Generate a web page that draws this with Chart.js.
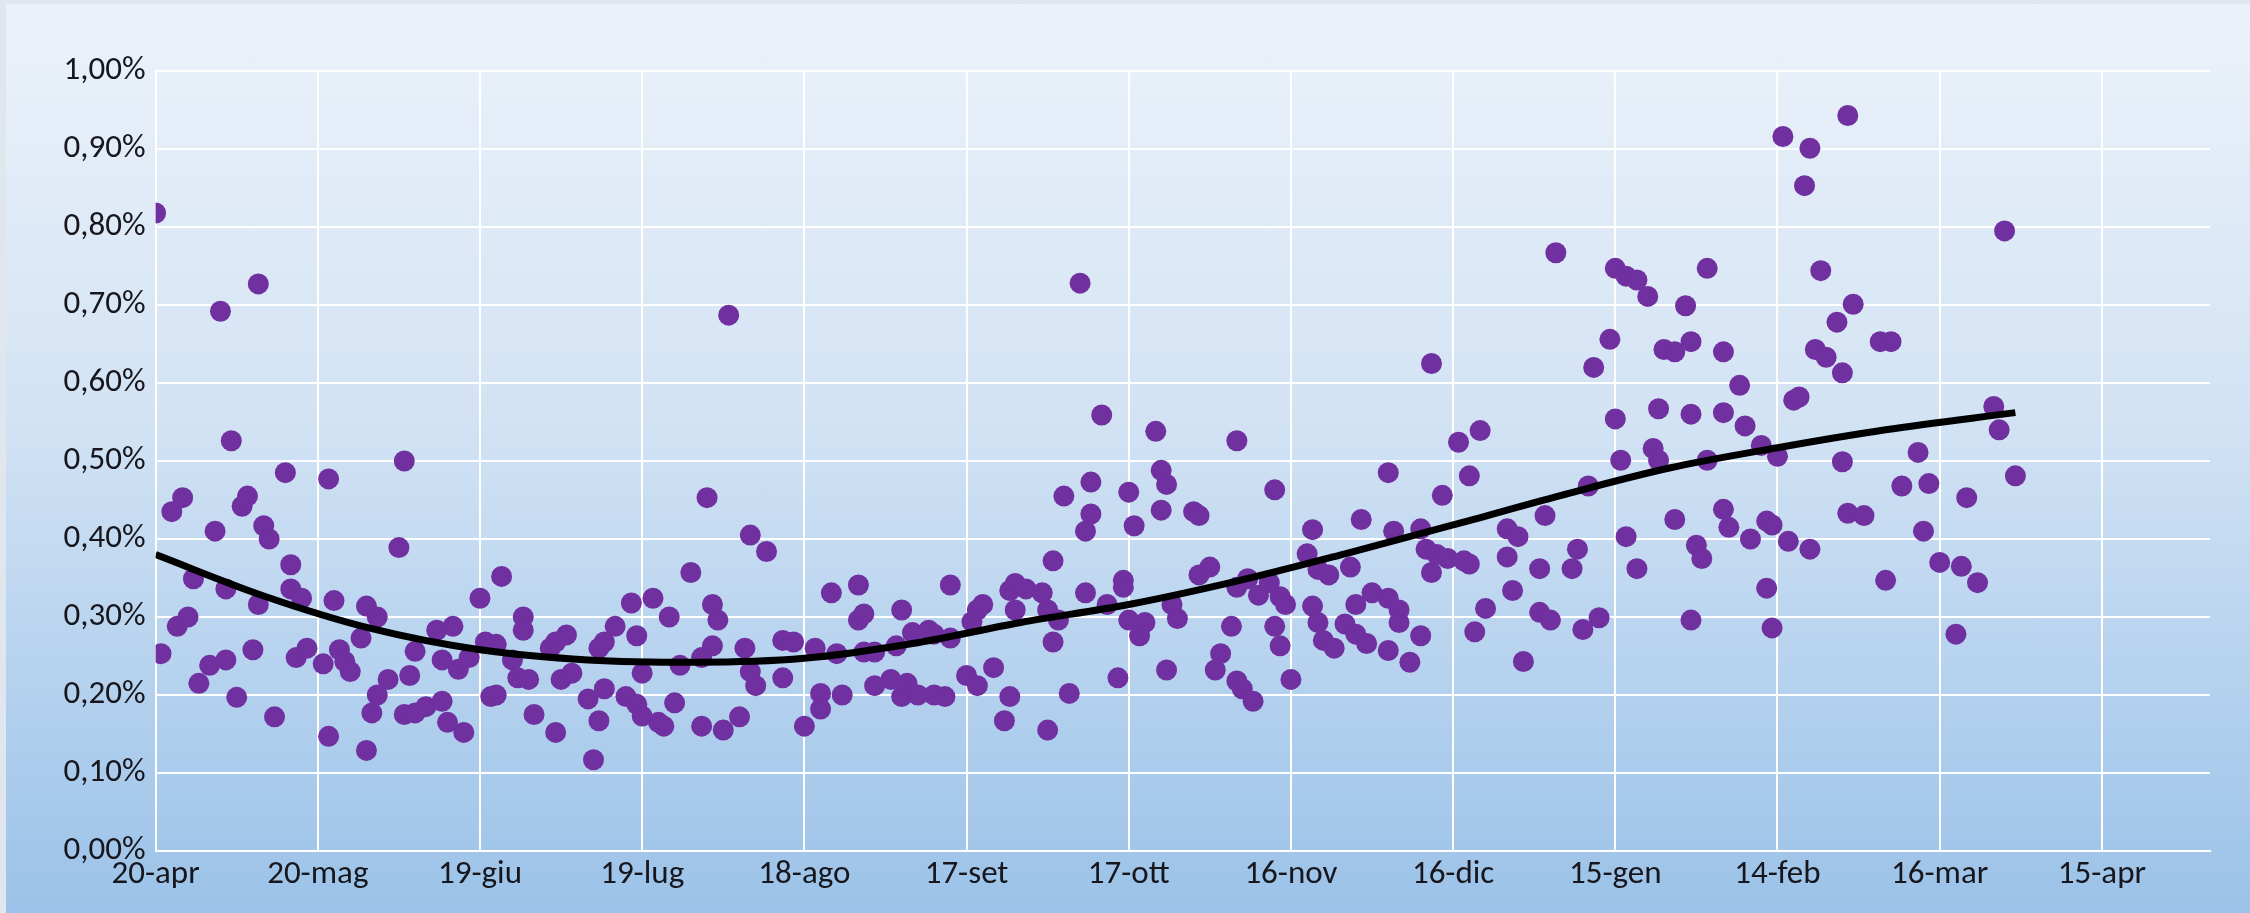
<!DOCTYPE html>
<html>
<head>
<meta charset="utf-8">
<script src="https://cdn.jsdelivr.net/npm/chart.js@4/dist/chart.umd.min.js"></script>
<style>
  html, body { margin: 0; padding: 0; background: #dfe6ee; }
  #wrap {
    position: absolute; left: 6px; top: 4px; width: 2244px; height: 909px;
    background: linear-gradient(to bottom, #ecf2fa 0%, #d3e3f4 45%, #b4d1ee 75%, #9bc2e8 100%);
  }
</style>
</head>
<body>
<div id="wrap"><canvas id="chart"></canvas></div>
<script>
// x axis: days since 20-apr, one tick every 30 days
const tickDays = [0, 30, 60, 90, 120, 150, 180, 210, 240, 270, 300, 330, 360];
const tickLabels = ["20-apr", "20-mag", "19-giu", "19-lug", "18-ago", "17-set", "17-ott",
  "16-nov", "16-dic", "15-gen", "14-feb", "16-mar", "15-apr"];

// daily values (%)
const days = [
  0, 1, 3, 4, 5, 6, 7, 8, 10, 11, 12, 13, 13, 14, 15, 16, 17, 18, 19, 19,
  20, 21, 22, 24, 25, 25, 26, 27, 28, 31, 32, 32, 33, 34, 35, 36, 38, 39, 39, 40,
  41, 41, 43, 45, 46, 46, 47, 48, 48, 50, 52, 53, 53, 54, 55, 56, 57,
  58, 60, 61, 62, 63, 63, 64, 66, 67, 68, 68, 69, 70, 73, 74, 74, 75, 76, 77, 80,
  81, 82, 82, 83, 83, 85, 87, 88, 89, 89, 90, 90, 92, 93, 94, 95, 96, 97, 99, 101,
  101, 102, 103, 103, 104, 105, 106, 108, 109, 110, 110, 111, 113, 116, 116,
  118, 120, 122, 123, 123, 125, 126, 127, 130, 130, 131, 131, 133, 133, 136, 137,
  138, 138, 139, 140, 141, 143, 144, 144, 146, 147, 147, 150, 151, 152, 152, 153,
  155, 157, 158, 158, 159, 159, 161, 164, 165, 165, 166, 166, 167, 168, 169, 171,
  172, 172, 173, 173, 175,
  176, 178, 179, 179, 180, 180, 181, 182, 183, 185, 186, 186, 187, 187, 188, 189,
  192, 193, 193, 195, 196, 197, 199, 200, 200, 200, 201, 202, 203, 204, 206, 207,
  207, 208, 208, 209, 210, 213, 214, 214, 215, 215, 216, 217, 218, 220, 221, 222,
  222, 223, 224, 225, 228, 228, 228, 229, 230, 230, 232,
  234, 234, 235, 236, 236, 237, 238, 239, 241, 242, 243, 243, 244, 245, 246, 250,
  250, 251, 252, 253, 256, 256, 257, 258, 259, 262, 263, 264, 265, 266, 267, 269,
  270, 270, 271, 272, 272, 274, 274, 276, 277, 278, 278, 279, 281, 281, 283, 284,
  284, 284, 285, 286, 287, 287, 290, 290, 290, 291,
  293, 294, 295, 297, 298, 298, 299, 299, 300, 301, 302, 303, 304, 305, 306, 306,
  307, 308, 309, 311, 312, 312, 313, 313, 314, 316, 319, 320, 321, 323, 326, 327,
  328, 330, 333, 334, 335, 337, 340, 341, 342, 344
];
const rates = [
  0.818, 0.253, 0.435, 0.288, 0.453, 0.300, 0.349, 0.215, 0.238, 0.410, 0.692, 0.336, 0.245, 0.526, 0.197, 0.442, 0.455, 0.258, 0.727, 0.316,
  0.417, 0.400, 0.172, 0.485, 0.336, 0.367, 0.248, 0.324, 0.260, 0.240, 0.477, 0.147, 0.321, 0.258, 0.243, 0.230, 0.273, 0.314, 0.129, 0.177,
  0.300, 0.200, 0.220, 0.389, 0.500, 0.175, 0.225, 0.256, 0.177, 0.185, 0.283, 0.192, 0.245, 0.165, 0.288, 0.233, 0.152,
  0.248, 0.324, 0.268, 0.198, 0.265, 0.200, 0.352, 0.245, 0.222, 0.300, 0.283, 0.220, 0.175, 0.260, 0.152, 0.268, 0.220, 0.277, 0.228, 0.195,
  0.117, 0.167, 0.260, 0.268, 0.208, 0.288, 0.198, 0.318, 0.188, 0.276, 0.228, 0.173, 0.324, 0.165, 0.160, 0.300, 0.190, 0.238, 0.357, 0.160,
  0.248, 0.453, 0.316, 0.263, 0.296, 0.155, 0.687, 0.172, 0.260, 0.405, 0.230, 0.212, 0.384, 0.270, 0.222,
  0.268, 0.160, 0.260, 0.202, 0.182, 0.331, 0.253, 0.200, 0.341, 0.296, 0.304, 0.255, 0.255, 0.212, 0.220, 0.263,
  0.309, 0.198, 0.215, 0.280, 0.200, 0.283, 0.278, 0.200, 0.198, 0.341, 0.273, 0.225, 0.294, 0.309, 0.212, 0.316,
  0.235, 0.167, 0.334, 0.198, 0.343, 0.309, 0.336, 0.331, 0.309, 0.155, 0.268, 0.372, 0.296, 0.455, 0.202, 0.728,
  0.410, 0.331, 0.473, 0.432, 0.559,
  0.316, 0.222, 0.347, 0.338, 0.460, 0.296, 0.417, 0.276, 0.293, 0.538, 0.488, 0.437, 0.470, 0.232, 0.316, 0.298,
  0.435, 0.354, 0.430, 0.364, 0.232, 0.253, 0.288, 0.526, 0.338, 0.218, 0.208, 0.349, 0.192, 0.328, 0.344, 0.463,
  0.288, 0.326, 0.263, 0.316, 0.220, 0.381, 0.412, 0.314, 0.361, 0.293, 0.270, 0.354, 0.260, 0.291, 0.364, 0.316,
  0.278, 0.425, 0.266, 0.331, 0.485, 0.324, 0.257, 0.410, 0.309, 0.293, 0.242,
  0.276, 0.413, 0.387, 0.625, 0.357, 0.380, 0.456, 0.375, 0.524, 0.372, 0.481, 0.368, 0.281, 0.539, 0.311, 0.413,
  0.377, 0.334, 0.403, 0.243, 0.362, 0.306, 0.430, 0.296, 0.767, 0.362, 0.387, 0.284, 0.468, 0.620, 0.299, 0.656,
  0.554, 0.747, 0.501, 0.737, 0.403, 0.362, 0.732, 0.711, 0.516, 0.567, 0.501, 0.643, 0.640, 0.425, 0.699, 0.296,
  0.560, 0.653, 0.392, 0.375, 0.747, 0.501, 0.640, 0.562, 0.438, 0.415,
  0.597, 0.545, 0.400, 0.520, 0.337, 0.423, 0.286, 0.418, 0.506, 0.916, 0.397, 0.578, 0.582, 0.853, 0.901, 0.387,
  0.643, 0.744, 0.633, 0.678, 0.613, 0.499, 0.943, 0.433, 0.701, 0.430, 0.653, 0.347, 0.653, 0.468, 0.511, 0.410,
  0.471, 0.370, 0.278, 0.365, 0.453, 0.344, 0.570, 0.540, 0.795, 0.481
];

// trend line, sampled along the black curve
const trendDays = [0, 20, 40, 60, 80, 100, 120, 140, 160, 180, 200, 220, 240, 260, 280, 300, 320, 344];
const trendRates = [0.380, 0.327, 0.285, 0.258, 0.245, 0.242, 0.247, 0.266, 0.293, 0.316, 0.346, 0.381,
  0.418, 0.456, 0.491, 0.517, 0.540, 0.562];

const points = days.map((d, i) => ({ x: d, y: rates[i] }));
const trend = trendDays.map((d, i) => ({ x: d, y: trendRates[i] }));

const labelFont = { family: "Calibri, Carlito, Lato, sans-serif", size: 33 };

new Chart(document.getElementById("chart"), {
  type: "scatter",
  data: {
    datasets: [
      {
        type: "line",
        data: trend,
        order: 0,
        borderColor: "#000000",
        borderWidth: 7,
        pointRadius: 0,
        fill: false,
        cubicInterpolationMode: "monotone",
      },
      {
        data: points,
        order: 1,
        backgroundColor: "#7030a0",
        borderWidth: 0,
        pointRadius: 10.5,
        pointHoverRadius: 10.5,
      },
    ],
  },
  options: {
    responsive: true,
    maintainAspectRatio: false,
    animation: false,
    layout: { padding: { top: 67, right: 40, left: 0, bottom: 0 } },
    plugins: { legend: { display: false }, tooltip: { enabled: false } },
    scales: {
      x: {
        type: "linear",
        min: 0,
        max: 380,
        afterBuildTicks: (s) => { s.ticks = tickDays.map((v) => ({ value: v })); },
        afterFit: (s) => { s.height = 62; },
        ticks: {
          font: labelFont,
          color: "#16161c",
          padding: 4,
          maxRotation: 0,
          autoSkip: false,
          callback: (v) => tickLabels[tickDays.indexOf(v)],
        },
        grid: { color: "#ffffff", lineWidth: 2, drawTicks: false },
        border: { color: "#ffffff", width: 2 },
      },
      y: {
        min: 0,
        max: 1,
        afterFit: (s) => { s.width = 149.6; },
        ticks: {
          stepSize: 0.1,
          font: labelFont,
          color: "#16161c",
          padding: 10,
          callback: (v) => v.toFixed(2).replace(".", ",") + "%",
        },
        grid: { color: "#ffffff", lineWidth: 2, drawTicks: false },
        border: { color: "#ffffff", width: 2 },
      },
    },
  },
});
</script>
</body>
</html>
